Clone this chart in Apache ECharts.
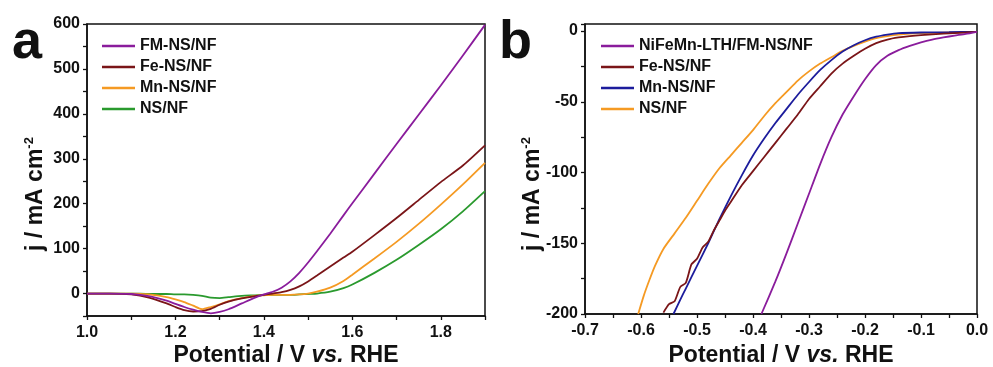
<!DOCTYPE html>
<html>
<head>
<meta charset="utf-8">
<script src="https://cdn.jsdelivr.net/npm/echarts@6/dist/echarts.min.js"></script>
<style>
  html, body { margin: 0; padding: 0; background: #fff; }
  #chart { width: 993px; height: 367px; }
</style>
</head>
<body>
<div id="chart"></div>
<script>
// panel a (OER) - shared potential axis
var potA = [1.00, 1.05, 1.10, 1.14, 1.18, 1.20, 1.22, 1.24, 1.26, 1.28, 1.30, 1.32, 1.35, 1.38, 1.40,
  1.42, 1.44, 1.46, 1.48, 1.50, 1.52, 1.55, 1.58, 1.60, 1.65, 1.70, 1.75, 1.80, 1.85, 1.90]
var fmA = [0, 0, -1, -6, -16, -23, -30, -36, -41, -44, -41, -35, -22, -9, -2,
  4, 13, 27, 46, 69, 94, 133, 174, 201, 267, 333, 398, 463, 530, 598]
var feA = [0, 0, -2, -9, -22, -30, -37, -40, -39, -34, -25, -18, -11, -6, -3,
  0, 3, 8, 16, 27, 40, 60, 80, 93, 130, 168, 208, 248, 285, 330]
var mnA = [0, 0, 0, -2, -8, -13, -19, -27, -35, -30, -24, -17, -10, -5, -4,
  -3, -3, -3, -2, 0, 4, 13, 28, 42, 78, 115, 155, 198, 243, 291]
var nsA = [0, 0, 0, -1, -1, -2, -2, -3, -5, -9, -10, -8, -5, -4, -3,
  -3, -3, -3, -2, -1, 0, 4, 12, 20, 46, 75, 108, 143, 183, 228]
var namesA = ['FM-NS/NF', 'Fe-NS/NF', 'Mn-NS/NF', 'NS/NF']

// panel b (HER)
var potB_fm = [-0.385, -0.36, -0.34, -0.32, -0.30, -0.28, -0.26, -0.24, -0.22, -0.20, -0.18, -0.16, -0.14, -0.12, -0.10, -0.08, -0.06, -0.04, -0.02, 0]
var curB_fm = [-200, -177, -157, -136, -115, -94, -75, -59, -46, -34, -24, -17.5, -13.5, -10.5, -8, -6, -4.5, -3.2, -2, -0.5]
var potB_fe = [-0.56, -0.55, -0.54, -0.53, -0.52, -0.51, -0.50, -0.49, -0.48, -0.47, -0.46, -0.45, -0.44, -0.42, -0.40, -0.38, -0.36, -0.34, -0.32, -0.30, -0.28, -0.26, -0.24, -0.22, -0.20, -0.18, -0.16, -0.14, -0.12, -0.10, -0.06, -0.02, 0]
var curB_fe = [-199, -193, -191, -181, -178, -165, -161, -153, -149, -141, -134, -127, -121, -109, -99, -89, -79, -69, -59, -48, -39, -30, -23, -17.5, -12.5, -8.5, -6, -4.5, -3.5, -2.8, -1.8, -1, -0.5]
var potB_mn = [-0.542, -0.53, -0.52, -0.50, -0.48, -0.46, -0.44, -0.42, -0.40, -0.38, -0.36, -0.34, -0.32, -0.30, -0.28, -0.26, -0.24, -0.22, -0.20, -0.18, -0.16, -0.14, -0.10, -0.05, 0]
var curB_mn = [-200, -190, -182, -166, -150, -133, -117, -102, -88, -76, -65, -55, -45, -36, -27.5, -20.5, -14.5, -10, -6.5, -4, -2.5, -1.5, -1, -0.8, -0.5]
var potB_ns = [-0.605, -0.595, -0.585, -0.575, -0.56, -0.54, -0.52, -0.50, -0.48, -0.46, -0.44, -0.42, -0.40, -0.38, -0.36, -0.34, -0.32, -0.30, -0.28, -0.26, -0.24, -0.22, -0.20, -0.18, -0.16, -0.14, -0.10, -0.05, 0]
var curB_ns = [-200, -187, -176, -166, -154, -143, -132, -120, -108, -97, -88, -79, -70, -60, -51, -43, -35, -28.5, -23, -18.5, -14, -10.5, -7.5, -5, -3.5, -2.5, -1.5, -1, -0.5]
var namesB = ['NiFeMn-LTH/FM-NS/NF', 'Fe-NS/NF', 'Mn-NS/NF', 'NS/NF']

var purple = '#8a1c9c', darkRed = '#7a1518', orange = '#f59a23', green = '#2a9a2e', blue = '#1c1c9c'
var font = 'Liberation Sans'

function pairs(xs, ys) {
  return xs.map(function (x, i) { return [x, ys[i]] })
}

function lineSeries(name, data, color, xi, yi) {
  return {
    name: name,
    type: 'line',
    xAxisIndex: xi,
    yAxisIndex: yi,
    data: data,
    showSymbol: false,
    symbol: 'none',
    smooth: 0.2,
    lineStyle: { color: color, width: 1.8 },
    itemStyle: { color: color },
    z: 3
  }
}

function valueAxis(opt) {
  var base = {
    type: 'value',
    splitLine: { show: false },
    axisLine: { show: true, onZero: false, lineStyle: { color: '#111', width: 1.5 } },
    axisTick: { show: true, inside: false, length: 4, lineStyle: { color: '#111', width: 1.3 } },
    axisLabel: { color: '#111', fontFamily: font, fontWeight: 'bold', fontSize: 16 }
  }
  for (var k in opt) base[k] = opt[k]
  return base
}

var chart = echarts.init(document.getElementById('chart'))

var option = {
  backgroundColor: '#fff',
  animation: false,
  grid: [
    { left: 87, top: 24, width: 398, height: 292, show: true, borderColor: '#111', borderWidth: 1.5, backgroundColor: 'transparent' },
    { left: 585, top: 24, width: 392, height: 290, show: true, borderColor: '#111', borderWidth: 1.5, backgroundColor: 'transparent' }
  ],
  xAxis: [
    valueAxis({
      gridIndex: 0, min: 1.0, max: 1.9, interval: 0.1,
      axisLabel: {
        color: '#111', fontFamily: font, fontWeight: 'bold', fontSize: 16, margin: 9,
        formatter: function (v) { return Math.round(v * 10) % 2 === 0 ? v.toFixed(1) : '' }
      }
    }),
    valueAxis({
      gridIndex: 1, min: -0.7, max: 0, interval: 0.05,
      axisLabel: {
        color: '#111', fontFamily: font, fontWeight: 'bold', fontSize: 16, margin: 9,
        formatter: function (v) {
          if (Math.abs(v) < 1e-9) return '0.0'
          return Math.round(v * 100) % 10 === 0 ? v.toFixed(1) : ''
        }
      }
    })
  ],
  yAxis: [
    valueAxis({
      gridIndex: 0, min: -50, max: 600, interval: 50,
      axisLabel: {
        color: '#111', fontFamily: font, fontWeight: 'bold', fontSize: 16, margin: 7,
        formatter: function (v) { return v % 100 === 0 ? String(v) : '' }
      }
    }),
    valueAxis({
      gridIndex: 1, min: -200, max: 5, interval: 25,
      axisLabel: {
        color: '#111', fontFamily: font, fontWeight: 'bold', fontSize: 16, margin: 7,
        formatter: function (v) { return v % 50 === 0 ? String(v) : '' }
      }
    })
  ],
  legend: [
    {
      left: 97, top: 33, orient: 'vertical', itemGap: 5, itemWidth: 33, itemHeight: 2.5, icon: 'rect',
      data: namesA,
      textStyle: { color: '#111', fontFamily: font, fontWeight: 'bold', fontSize: 16, lineHeight: 16 }
    },
    {
      left: 596, top: 33, orient: 'vertical', itemGap: 5, itemWidth: 33, itemHeight: 2.5, icon: 'rect',
      data: namesB.map(function (n) { return 'b:' + n }),
      formatter: function (n) { return n.replace(/^b:/, '') },
      textStyle: { color: '#111', fontFamily: font, fontWeight: 'bold', fontSize: 16, lineHeight: 16 }
    }
  ],
  graphic: [
    { type: 'text', left: 12, top: 16, style: { text: 'a', font: 'bold 54px ' + font, fill: '#111' } },
    { type: 'text', left: 499, top: 16, style: { text: 'b', font: 'bold 54px ' + font, fill: '#111' } },
    {
      type: 'text', x: 286, y: 356,
      style: {
        text: '{n|Potential / V }{i|vs.}{n| RHE}', align: 'center', verticalAlign: 'middle',
        rich: {
          n: { font: 'bold 23px ' + font, fill: '#111' },
          i: { font: 'italic bold 23px ' + font, fill: '#111' }
        }
      }
    },
    {
      type: 'text', x: 781, y: 356,
      style: {
        text: '{n|Potential / V }{i|vs.}{n| RHE}', align: 'center', verticalAlign: 'middle',
        rich: {
          n: { font: 'bold 23px ' + font, fill: '#111' },
          i: { font: 'italic bold 23px ' + font, fill: '#111' }
        }
      }
    },
    {
      type: 'text', x: 36, y: 194, rotation: Math.PI / 2,
      style: {
        text: '{n|j / mA cm}{s|-2}', align: 'center', verticalAlign: 'middle',
        rich: {
          n: { font: 'bold 23px ' + font, fill: '#111', lineHeight: 26 },
          s: { font: 'bold 13px ' + font, fill: '#111', verticalAlign: 'top', lineHeight: 26 }
        }
      }
    },
    {
      type: 'text', x: 533, y: 194, rotation: Math.PI / 2,
      style: {
        text: '{n|j / mA cm}{s|-2}', align: 'center', verticalAlign: 'middle',
        rich: {
          n: { font: 'bold 23px ' + font, fill: '#111', lineHeight: 26 },
          s: { font: 'bold 13px ' + font, fill: '#111', verticalAlign: 'top', lineHeight: 26 }
        }
      }
    }
  ],
  series: [
    lineSeries('NS/NF', pairs(potA, nsA), green, 0, 0),
    lineSeries('Mn-NS/NF', pairs(potA, mnA), orange, 0, 0),
    lineSeries('Fe-NS/NF', pairs(potA, feA), darkRed, 0, 0),
    lineSeries('FM-NS/NF', pairs(potA, fmA), purple, 0, 0),
    lineSeries('b:NS/NF', pairs(potB_ns, curB_ns), orange, 1, 1),
    lineSeries('b:Mn-NS/NF', pairs(potB_mn, curB_mn), blue, 1, 1),
    lineSeries('b:Fe-NS/NF', pairs(potB_fe, curB_fe), darkRed, 1, 1),
    lineSeries('b:NiFeMn-LTH/FM-NS/NF', pairs(potB_fm, curB_fm), purple, 1, 1)
  ]
}

chart.setOption(option)
</script>
</body>
</html>
